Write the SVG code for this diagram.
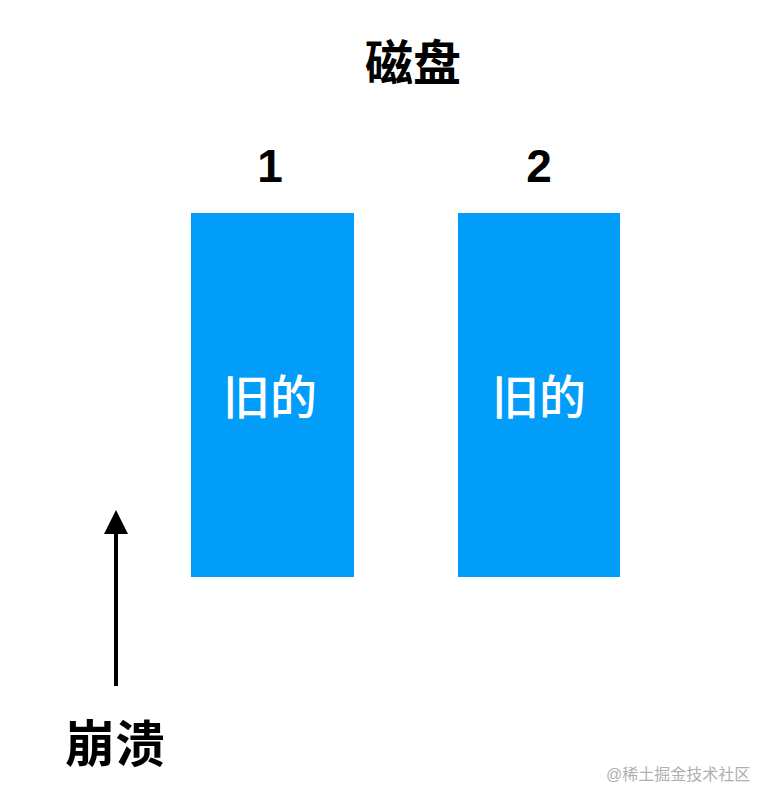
<svg xmlns="http://www.w3.org/2000/svg" width="774" height="804" viewBox="0 0 774 804">
<style>
.disk{fill:#019DF9;}
.lbl{font-family:"Liberation Sans","Noto Sans CJK SC",sans-serif;fill:#fff;font-size:47px;font-weight:500;text-anchor:middle;}
.hd{font-family:"Liberation Sans","Noto Sans CJK SC",sans-serif;font-weight:bold;fill:#000;text-anchor:middle;}
.wm{font-family:"Liberation Sans","Noto Sans CJK SC",sans-serif;fill:#b0b0b0;font-size:16px;}
</style>
<defs>
<marker id="ah" markerWidth="6" markerHeight="6" refX="1" refY="3" orient="auto" markerUnits="strokeWidth">
<path d="M0,0 L6,3 L0,6 Z" fill="#000"/>
</marker>
</defs>
<rect width="774" height="804" fill="#fff"/>
<text class="hd" x="413" y="80" font-size="48">磁盘</text>
<g id="disk1">
<text class="hd" x="270" y="182" font-size="46">1</text>
<rect class="disk" x="191" y="213" width="163" height="364"/>
<text class="lbl" x="270" y="414">旧的</text>
</g>
<g id="disk2">
<text class="hd" x="539" y="182" font-size="46">2</text>
<rect class="disk" x="458" y="213" width="162" height="364"/>
<text class="lbl" x="539" y="414">旧的</text>
</g>
<g id="connectors">
<line x1="116" y1="686" x2="116" y2="530" stroke="#000" stroke-width="4" marker-end="url(#ah)"/>
</g>
<g id="crash">
<text class="hd" x="115" y="762" font-size="50">崩溃</text>
</g>
<text class="wm" x="606" y="780">@稀土掘金技术社区</text>
</svg>
